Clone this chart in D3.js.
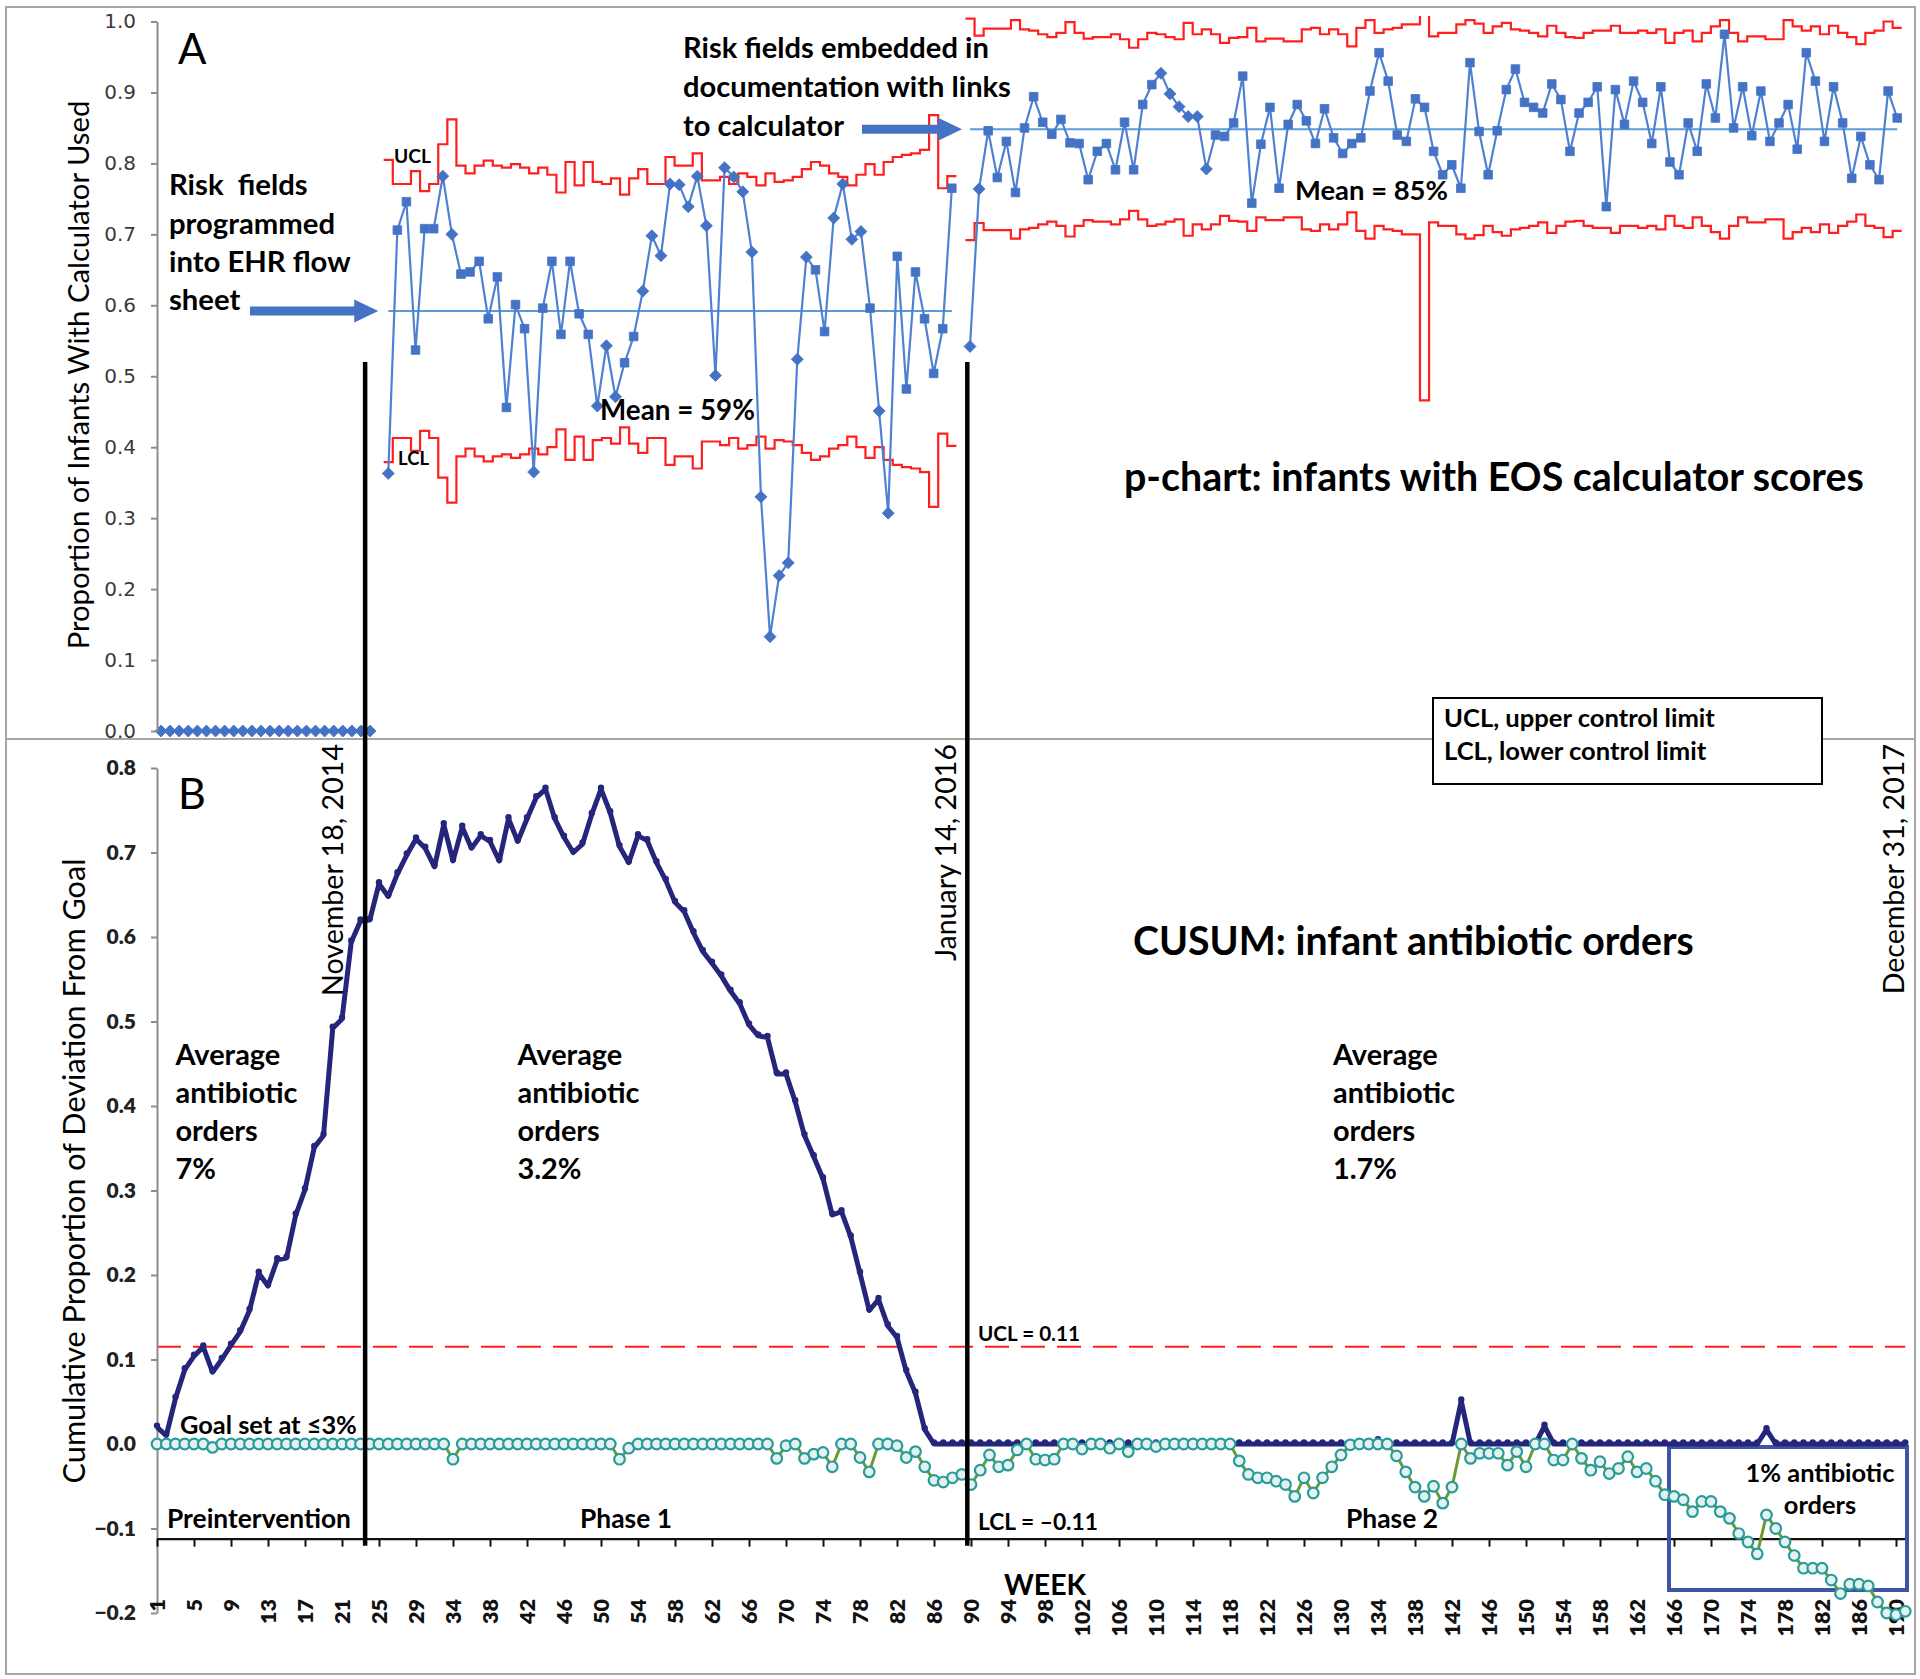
<!DOCTYPE html>
<html>
<head>
<meta charset="utf-8">
<script src="https://cdn.jsdelivr.net/npm/d3@7/dist/d3.min.js"></script>
<style>
html,body{margin:0;padding:0;background:#fff;}
svg{display:block;}
text{white-space:pre;}
</style>
</head>
<body>
<svg id="chart" width="1920" height="1679" xmlns="http://www.w3.org/2000/svg"></svg>
<script>
// ================= DATA =================
// ---- Panel A : p-chart, proportion of infants with calculator used ----
const pAxisTicks = [0, 0.1, 0.2, 0.3, 0.4, 0.5, 0.6, 0.7, 0.8, 0.9, 1.0];

const pPreStart = 0;
const pPre = [0,0,0,0,0,0,0,0,0,0,0,0,0,0,0,0,0,0,0,0,0,0,0,0];

const pPhase1Start = 25;
const pPhase1 = [0.363,0.706,0.746,0.537,0.708,0.708,0.782,0.700,0.644,0.647,
  0.662,0.581,0.640,0.456,0.601,0.567,0.365,0.596,0.662,0.559,
  0.662,0.588,0.559,0.458,0.543,0.471,0.519,0.556,0.620,0.698,
  0.670,0.771,0.770,0.739,0.782,0.712,0.501,0.794,0.781,0.760,
  0.675,0.330,0.133,0.219,0.237,0.524,0.668,0.650,0.563,0.723,
  0.771,0.693,0.704,0.596,0.451,0.307,0.669,0.482,0.647,0.581,
  0.504,0.567,0.765];
const pPhase1Marker = ("dsssssddss"+"ssssssdsss"+"sssdddssdd"+"dddddddddd"+"dddddddssd"+"dddsddssss"+"sss").split("");
const pPhase1UCL = [0.805,0.771,0.771,0.789,0.761,0.771,0.827,0.862,0.797,0.786,
  0.797,0.804,0.797,0.794,0.799,0.794,0.786,0.794,0.784,0.759,
  0.802,0.769,0.802,0.774,0.771,0.779,0.756,0.779,0.792,0.771,
  0.771,0.809,0.797,0.797,0.814,0.776,0.776,0.781,0.771,0.786,
  0.781,0.769,0.786,0.774,0.776,0.781,0.792,0.802,0.797,0.786,
  0.781,0.769,0.784,0.799,0.784,0.802,0.809,0.812,0.814,0.819,
  0.868,0.765,0.782];
const pPhase1LCL = [0.379,0.413,0.413,0.395,0.423,0.413,0.357,0.322,0.387,0.398,
  0.387,0.380,0.387,0.390,0.385,0.390,0.398,0.390,0.400,0.425,
  0.382,0.415,0.382,0.410,0.413,0.405,0.428,0.405,0.392,0.413,
  0.413,0.375,0.387,0.387,0.370,0.408,0.408,0.403,0.413,0.398,
  0.403,0.415,0.398,0.410,0.408,0.403,0.392,0.382,0.387,0.398,
  0.403,0.415,0.400,0.385,0.400,0.382,0.375,0.372,0.370,0.365,
  0.316,0.419,0.402];
const pMean1 = 0.592;

const pPhase2Start = 89;
const pPhase2 = [0.542,0.764,0.846,0.780,0.831,0.759,0.850,0.894,0.858,0.841,
  0.862,0.829,0.828,0.777,0.817,0.828,0.791,0.858,0.791,0.883,
  0.911,0.927,0.898,0.880,0.866,0.866,0.792,0.840,0.838,0.857,
  0.923,0.744,0.827,0.879,0.765,0.855,0.883,0.860,0.828,0.877,
  0.836,0.814,0.828,0.836,0.902,0.956,0.916,0.840,0.831,0.891,
  0.879,0.817,0.784,0.798,0.765,0.942,0.845,0.784,0.846,0.904,
  0.933,0.886,0.879,0.871,0.912,0.890,0.817,0.871,0.886,0.908,
  0.739,0.904,0.855,0.916,0.886,0.828,0.908,0.802,0.784,0.857,
  0.817,0.912,0.864,0.982,0.850,0.908,0.839,0.902,0.831,0.857,
  0.883,0.820,0.956,0.916,0.831,0.908,0.857,0.779,0.838,0.798,
  0.777,0.902,0.864];
const pPhase2Marker = ("ddssssssss"+"ssssssssss"+"sddddddsss"+"ssssssssss"+"ssssssssss"+"ssssssssss"+"ssssssssss"+"ssssssssss"+"ssssssssss"+"ssssssssss"+"sss").split("");
const pPhase2UCL = [1.004,0.980,0.990,0.990,0.990,1.002,0.989,0.987,0.982,0.978,
  0.984,0.999,0.984,0.976,0.978,0.978,0.982,0.975,0.963,0.975,
  0.984,0.982,0.978,0.975,0.998,0.982,0.989,0.982,0.970,0.977,
  0.978,0.991,0.972,0.976,0.976,0.972,0.972,0.989,0.991,0.982,
  0.989,0.982,0.965,0.991,1.002,0.984,0.989,0.991,0.996,0.996,
  1.230,0.979,0.984,0.984,0.996,1.002,0.997,0.984,0.993,0.998,
  0.989,0.987,0.984,0.979,0.994,0.984,0.978,0.977,0.984,0.987,
  0.987,0.994,0.984,0.984,0.987,0.984,0.989,0.970,0.984,0.987,
  0.972,0.984,0.993,1.002,0.984,0.972,0.979,0.979,0.975,0.975,
  1.002,0.993,0.987,0.993,0.982,0.994,0.984,0.978,0.968,0.984,
  0.987,1.000,0.991];
const pPhase2LCL = [0.692,0.716,0.706,0.706,0.706,0.694,0.707,0.709,0.714,0.718,
  0.712,0.697,0.712,0.720,0.718,0.718,0.714,0.721,0.733,0.721,
  0.712,0.714,0.718,0.721,0.698,0.714,0.707,0.714,0.726,0.719,
  0.718,0.705,0.724,0.720,0.720,0.724,0.724,0.707,0.705,0.714,
  0.707,0.714,0.731,0.705,0.694,0.712,0.707,0.705,0.700,0.700,
  0.466,0.717,0.712,0.712,0.700,0.694,0.699,0.712,0.703,0.698,
  0.707,0.709,0.712,0.717,0.702,0.712,0.718,0.719,0.712,0.709,
  0.709,0.702,0.712,0.712,0.709,0.712,0.707,0.726,0.712,0.709,
  0.724,0.712,0.703,0.694,0.712,0.724,0.717,0.717,0.721,0.721,
  0.694,0.703,0.709,0.703,0.714,0.702,0.712,0.718,0.728,0.712,
  0.709,0.696,0.705];
const pMean2 = 0.848;

// ---- Panel B : CUSUM of infant antibiotic orders ----
const cAxisTicks = [-0.2, -0.1, 0, 0.1, 0.2, 0.3, 0.4, 0.5, 0.6, 0.7, 0.8];
const weekTickLabels = ["1","5","9","13","17","21","25","29","34","38","42","46","50","54","58","62",
  "66","70","74","78","82","86","90","94","98","102","106","110","114","118","122","126","130","134",
  "138","142","146","150","154","158","162","166","170","174","178","182","186","190"];
const cusumUpper = [0.020,0.010,0.054,0.088,0.104,0.115,0.085,0.100,0.117,0.133,
  0.158,0.202,0.187,0.218,0.220,0.271,0.301,0.351,0.365,0.492,
  0.503,0.594,0.619,0.620,0.663,0.648,0.675,0.697,0.716,0.705,
  0.683,0.733,0.690,0.730,0.705,0.720,0.713,0.690,0.740,0.713,
  0.740,0.765,0.775,0.740,0.718,0.700,0.710,0.745,0.775,0.747,
  0.707,0.688,0.720,0.714,0.688,0.667,0.641,0.630,0.605,0.583,
  0.569,0.554,0.536,0.521,0.496,0.483,0.481,0.438,0.438,0.405,
  0.365,0.340,0.314,0.271,0.275,0.245,0.202,0.158,0.171,0.140,
  0.126,0.086,0.060,0.017,0,0,0,0,0,0,
  0,0,0,0,0,0,0,0,0,0,
  0,0,0,0,0,0,0,0,0,0,
  0,0,0,0,0,0,0,0,0,0,
  0,0,0,0,0,0,0,0,0,0,
  0,0,0.004,0,0,0,0,0,0,0,
  0,0.051,0,0,0,0,0,0,0,0,
  0.021,0,0,0,0,0,0,0,0,0,
  0,0,0,0,0,0,0,0,0,0,
  0,0,0,0,0.017,0,0,0,0,0,
  0,0,0,0,0,0,0,0,0,0];
const cusumLower = [0,0,0,0,0,0,-0.004,0,0,0,
  0,0,0,0,0,0,0,0,0,0,
  0,0,0,0,0,0,0,0,0,0,
  0,0,-0.018,0,0,0,0,0,0,0,
  0,0,0,0,0,0,0,0,0,0,
  -0.018,-0.005,0,0,0,0,0,0,0,0,
  0,0,0,0,0,0,0,-0.017,-0.002,0,
  -0.017,-0.012,-0.010,-0.027,0,0,-0.016,-0.033,0,0,
  -0.002,-0.016,-0.009,-0.027,-0.043,-0.045,-0.040,-0.036,-0.048,-0.031,
  -0.013,-0.027,-0.025,-0.007,0,-0.018,-0.019,-0.018,0,0,
  -0.006,0,0,-0.005,0,-0.009,0,0,-0.003,0,
  0,0,0,0,0,0,0,-0.020,-0.036,-0.040,
  -0.040,-0.044,-0.048,-0.062,-0.040,-0.058,-0.040,-0.027,-0.013,-0.001,
  0,0,0,0,-0.014,-0.033,-0.051,-0.062,-0.050,-0.070,
  -0.051,0,-0.017,-0.011,-0.011,-0.011,-0.025,-0.009,-0.027,0,
  0,-0.019,-0.019,0,-0.017,-0.031,-0.021,-0.035,-0.029,-0.015,
  -0.033,-0.029,-0.044,-0.060,-0.062,-0.066,-0.080,-0.068,-0.068,-0.080,
  -0.088,-0.106,-0.116,-0.130,-0.084,-0.100,-0.116,-0.132,-0.147,-0.147,
  -0.147,-0.161,-0.177,-0.166,-0.166,-0.168,-0.187,-0.200,-0.202,-0.198];
const cusumUCL = 0.115;
const cusumLCL = -0.112;
const eventIdx = [22.5, 87.6];   // week-axis positions of the two interventions
const eventLabels = ["November 18, 2014", "January 14, 2016"];

// ================= DRAWING =================
const W = 1920, H = 1679;
const svg = d3.select("#chart");
const CAL = "Lato, 'Open Sans', sans-serif";
const VER = "'DejaVu Sans', Verdana, sans-serif";
const BLUE = "#4472c4", RED = "#ff1f1f", NAVY = "#25257c";

svg.append("rect").attr("width", W).attr("height", H).attr("fill", "#fff");
svg.append("rect").attr("x", 6).attr("y", 7).attr("width", 1909).attr("height", 1667)
  .attr("fill", "none").attr("stroke", "#a6a6a6").attr("stroke-width", 2);
svg.append("line").attr("x1", 6).attr("x2", 1915).attr("y1", 739).attr("y2", 739)
  .attr("stroke", "#a6a6a6").attr("stroke-width", 2);

function fitBlock(texts, refIdx, refW) {
  const len = texts[refIdx].node().getComputedTextLength();
  const fs = parseFloat(texts[refIdx].attr("font-size"));
  const nf = fs * refW / len;
  texts.forEach(t => t.attr("font-size", nf.toFixed(2)));
  return nf;
}
function addLines(g, x, ys, lines, o) {
  const ts = lines.map((s, i) => g.append("text")
    .attr("x", x).attr("y", ys[i])
    .attr("font-family", o.family || CAL).attr("font-weight", o.weight || 700)
    .attr("font-size", o.size || 24).attr("fill", o.fill || "#000")
    .attr("text-anchor", o.anchor || "start").text(s));
  if (o.refW) fitBlock(ts, o.refIdx || 0, o.refW);
  if (o.fixed) ts.forEach(t => t.attr("font-size", o.fixed));
  return ts;
}
function rotText(g, x, y, s, o) {
  return g.append("text").attr("transform", `translate(${x},${y}) rotate(-90)`)
    .attr("font-family", o.family || CAL).attr("font-weight", o.weight || 400)
    .attr("font-size", o.size || 24).attr("fill", "#000")
    .attr("text-anchor", o.anchor || "middle").text(s);
}
function blockArrow(x0, x1, y, headL, shaftH, headH) {
  const xs = x1 - headL;
  return `M${x0},${y - shaftH / 2}L${xs},${y - shaftH / 2}L${xs},${y - headH / 2}L${x1},${y}` +
         `L${xs},${y + headH / 2}L${xs},${y + shaftH / 2}L${x0},${y + shaftH / 2}Z`;
}

// ---------- Panel A ----------
const xA = d3.scaleLinear().domain([0, 191]).range([161, 1897.2]);
const yA = d3.scaleLinear().domain([0, 1]).range([731, 21.5]);
svg.append("clipPath").attr("id", "clipA").append("rect")
  .attr("x", 150).attr("y", 16).attr("width", 1760).attr("height", 722);
const gA = svg.append("g");
const plotA = gA.append("g").attr("clip-path", "url(#clipA)");

function stepPoints(start, vals) {
  const out = [];
  vals.forEach((v, k) => { out.push([start + k - 0.5, v]); out.push([start + k + 0.5, v]); });
  return out;
}
const lineA = d3.line().x(d => xA(d[0])).y(d => yA(d[1]));
[[pPhase1Start, pPhase1UCL], [pPhase1Start, pPhase1LCL], [pPhase2Start, pPhase2UCL], [pPhase2Start, pPhase2LCL]]
  .forEach(([s, v]) => plotA.append("path").attr("d", lineA(stepPoints(s, v)))
    .attr("fill", "none").attr("stroke", RED).attr("stroke-width", 2.2));

[[pPhase1Start, pPhase1.length, pMean1], [pPhase2Start, pPhase2.length, pMean2]].forEach(([s, n, m]) =>
  plotA.append("line").attr("x1", xA(s)).attr("x2", xA(s + n - 1)).attr("y1", yA(m)).attr("y2", yA(m))
    .attr("stroke", "#5b9bd5").attr("stroke-width", 2));

const seriesA = [
  [pPreStart, pPre, pPre.map(() => "d")],
  [pPhase1Start, pPhase1, pPhase1Marker],
  [pPhase2Start, pPhase2, pPhase2Marker]
];
const pl = d3.line().x(d => xA(d.i)).y(d => yA(d.v));
seriesA.forEach(([s, vals, mk]) => {
  const pts = vals.map((v, k) => ({ i: s + k, v, m: mk[k] }));
  plotA.append("path").attr("d", pl(pts)).attr("fill", "none")
    .attr("stroke", "#4f81d3").attr("stroke-width", 2.2);
  plotA.selectAll(null).data(pts).enter().append("path")
    .attr("transform", d => `translate(${xA(d.i)},${yA(d.v)})`)
    .attr("d", d => d.m === "d" ? "M0,-6L6,0L0,6L-6,0Z" : "M-4.3,-4.3H4.3V4.3H-4.3Z")
    .attr("fill", BLUE).attr("stroke", BLUE).attr("stroke-width", 0.8);
});

const axA = gA.append("g").attr("transform", "translate(157,0)")
  .call(d3.axisLeft(yA).tickValues(pAxisTicks).tickFormat(d3.format(".1f"))
    .tickSize(6).tickSizeOuter(0).tickPadding(15));
axA.select(".domain").attr("stroke", "#8c8c8c").attr("stroke-width", 2);
axA.selectAll(".tick line").attr("stroke", "#8c8c8c").attr("stroke-width", 2);
axA.selectAll(".tick text").attr("font-family", VER).attr("font-size", 20).attr("fill", "#3a3a3a");

// Panel A annotations
gA.append("text").attr("x", 178).attr("y", 64).attr("font-family", CAL)
  .attr("font-size", 42).text("A");
rotText(gA, 89, 375, "Proportion of Infants With Calculator Used", { size: 26 })
  .call(t => fitBlock([t], 0, 549));
addLines(gA, 169, [195, 234, 272, 310], ["Risk  fields", "programmed", "into EHR flow", "sheet"],
  { refIdx: 1, refW: 166 });
addLines(gA, 683, [58, 97, 136], ["Risk fields embedded in", "documentation with links", "to calculator"],
  { refIdx: 1, refW: 328 });
gA.append("path").attr("d", blockArrow(250, xA(pPhase1Start) - 10, yA(pMean1), 24, 9, 23)).attr("fill", BLUE);
gA.append("path").attr("d", blockArrow(862, xA(pPhase2Start) - 8, yA(pMean2), 24, 9, 23)).attr("fill", BLUE);
addLines(gA, 394, [163], ["UCL"], { refW: 37 });
addLines(gA, 398, [465], ["LCL"], { refW: 31 });
addLines(gA, 600, [420], ["Mean = 59%"], { refW: 155 });
addLines(gA, 1295, [200], ["Mean = 85%"], { refW: 153 });
addLines(gA, 1124, [491], ["p-chart: infants with EOS calculator scores"], { refW: 740 });
gA.append("rect").attr("x", 1433).attr("y", 698).attr("width", 389).attr("height", 86)
  .attr("fill", "#fff").attr("stroke", "#000").attr("stroke-width", 2);
addLines(gA, 1444, [727, 760], ["UCL, upper control limit", "LCL, lower control limit"], { refIdx: 0, refW: 271 });

// ---------- Panel B ----------
const xB = d3.scaleLinear().domain([0, 189]).range([157, 1905.25]);
const yB = d3.scaleLinear().domain([-0.2, 0.8]).range([1613, 768]);
const gB = svg.append("g");

gB.append("line").attr("x1", xB(0)).attr("x2", xB(cusumUpper.length - 1))
  .attr("y1", yB(cusumUCL)).attr("y2", yB(cusumUCL))
  .attr("stroke", RED).attr("stroke-width", 2).attr("stroke-dasharray", "24,12");

const axBy = gB.append("g").attr("transform", "translate(157,0)")
  .call(d3.axisLeft(yB).tickValues(cAxisTicks).tickFormat(d3.format(".1f"))
    .tickSize(6).tickSizeOuter(0).tickPadding(15));
axBy.select(".domain").attr("stroke", "#8c8c8c").attr("stroke-width", 2);
axBy.selectAll(".tick line").attr("stroke", "#8c8c8c").attr("stroke-width", 2);
axBy.selectAll(".tick text").attr("font-family", CAL).attr("font-weight", 800)
  .attr("font-size", 21).attr("fill", "#222");

const axisY = yB(cusumLCL);
const axBx = gB.append("g").attr("transform", `translate(0,${axisY})`)
  .call(d3.axisBottom(xB).tickValues(weekTickLabels.map((_, k) => k * 4))
    .tickFormat((d, k) => weekTickLabels[k]).tickSize(8).tickSizeOuter(0));
axBx.select(".domain").attr("stroke", "#111").attr("stroke-width", 2.2);
axBx.selectAll(".tick line").attr("stroke", "#111").attr("stroke-width", 2);
axBx.selectAll(".tick text").attr("transform", "rotate(-90)").attr("text-anchor", "end")
  .attr("x", -(1599 - axisY)).attr("y", 0).attr("dy", "0.36em")
  .attr("font-family", CAL).attr("font-weight", 800).attr("font-size", 21.5).attr("fill", "#111");

// 1% box (behind markers)
gB.append("rect").attr("x", 1669).attr("y", 1447).attr("width", 238).attr("height", 143)
  .attr("fill", "none").attr("stroke", "#3c55a5").attr("stroke-width", 4);

const upPts = cusumUpper.map((v, i) => ({ i, v }));
const loPts = cusumLower.map((v, i) => ({ i, v }));
const lineB = d3.line().x(d => xB(d.i)).y(d => yB(d.v));
gB.append("path").attr("d", lineB(upPts)).attr("fill", "none").attr("stroke", NAVY)
  .attr("stroke-width", 5).attr("stroke-linejoin", "round");
gB.selectAll(null).data(upPts).enter().append("circle")
  .attr("cx", d => xB(d.i)).attr("cy", d => yB(d.v) - 1.5).attr("r", 3.2).attr("fill", NAVY);
gB.append("path").attr("d", lineB(loPts)).attr("fill", "none").attr("stroke", "#6b9a35")
  .attr("stroke-width", 3);
gB.selectAll(null).data(loPts).enter().append("circle")
  .attr("cx", d => xB(d.i)).attr("cy", d => yB(d.v)).attr("r", 5.3)
  .attr("fill", "#e3f2ef").attr("stroke", "#2a9b9b").attr("stroke-width", 2.2);

// vertical intervention lines spanning both panels
eventIdx.forEach(e => svg.append("line").attr("x1", xB(e)).attr("x2", xB(e))
  .attr("y1", yA(0.52)).attr("y2", axisY + 7).attr("stroke", "#000").attr("stroke-width", 4.5));

// Panel B annotations
gB.append("text").attr("x", 178).attr("y", 809).attr("font-family", CAL)
  .attr("font-size", 43).text("B");
rotText(gB, 85, 1171, "Cumulative Proportion of Deviation From Goal", { size: 26 })
  .call(t => fitBlock([t], 0, 625));
const d1 = rotText(gB, 343, 744, eventLabels[0], { size: 28, anchor: "end" });
const dateSize = fitBlock([d1], 0, 252);
rotText(gB, 956, 744, eventLabels[1], { size: dateSize, anchor: "end" });
rotText(gB, 1904, 744, "December 31, 2017", { size: dateSize, anchor: "end" });
addLines(gB, 1133, [955], ["CUSUM: infant antibiotic orders"], { refW: 561 });

const avgSize = fitBlock(addLines(gB, 175.5, [1065, 1103, 1141, 1179], ["Average", "antibiotic", "orders", "7%"], {}), 1, 122);
addLines(gB, 517.5, [1065, 1103, 1141, 1179], ["Average", "antibiotic", "orders", "3.2%"], { fixed: avgSize });
addLines(gB, 1333, [1065, 1103, 1141, 1179], ["Average", "antibiotic", "orders", "1.7%"], { fixed: avgSize });

addLines(gB, 978, [1341], ["UCL = 0.11"], { refW: 102 });
addLines(gB, 978, [1530], ["LCL = \u20130.11"], { refW: 120 });
addLines(gB, 180, [1434], ["Goal set at \u22643%"], { refW: 177 });
const phSize = fitBlock(addLines(gB, 167, [1528], ["Preintervention"], {}), 0, 184);
addLines(gB, 580, [1528], ["Phase 1"], { fixed: phSize });
addLines(gB, 1346, [1528], ["Phase 2"], { fixed: phSize });
addLines(gB, 1820, [1482, 1514], ["1% antibiotic", "orders"], { anchor: "middle", refIdx: 0, refW: 149 });
addLines(gB, 1045, [1595], ["WEEK"], { anchor: "middle", refW: 82 });
</script>
</body>
</html>
